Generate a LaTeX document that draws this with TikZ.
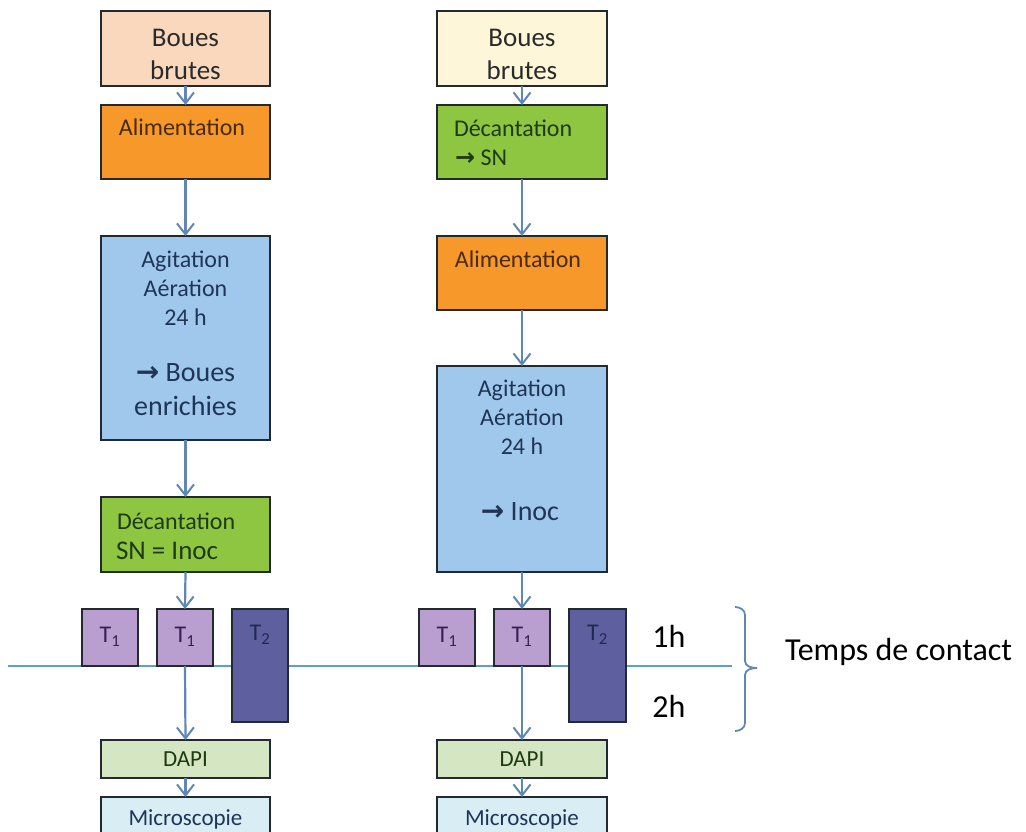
\documentclass[tikz,border=0pt]{standalone}
\usepackage{fontspec}
\setmainfont{Carlito}
\newfontfamily\arrowfont{DejaVu Sans}
\usetikzlibrary{arrows.meta,fit}
\newcommand\fsz[2]{\fontsize{#1}{#2}\selectfont}
\newcommand\rarr{{\arrowfont\bfseries\char"2192}}
\definecolor{boxline}{HTML}{222A30}
\definecolor{arrowc}{HTML}{5F86B4}
\definecolor{linec}{HTML}{5AA0CC}
\definecolor{peach}{HTML}{FAD8BE}
\definecolor{cream}{HTML}{FDF6D8}
\definecolor{orangec}{HTML}{F7982A}
\definecolor{greenc}{HTML}{8FC641}
\definecolor{bluec}{HTML}{A0C8EC}
\definecolor{lavc}{HTML}{B89FD0}
\definecolor{slatec}{HTML}{5E5F9E}
\definecolor{dapic}{HTML}{D5E6C2}
\definecolor{microc}{HTML}{D8EEF4}
\definecolor{tgrey}{HTML}{2A2A2A}
\definecolor{tbrown}{HTML}{4A2A0C}
\definecolor{tgreen}{HTML}{1E3A12}
\definecolor{tnavy}{HTML}{1F3556}
\definecolor{tpurple}{HTML}{3A1F55}
\definecolor{tslate}{HTML}{1F2A50}
\begin{document}
\begin{tikzpicture}[x=1pt,y=-1pt,
  box/.style={draw=boxline, line width=1.5pt, inner sep=0pt, outer sep=0pt},
  flow/.style={draw=arrowc, line width=2.2pt, -{Straight Barb[length=11pt,width=17pt,line width=2pt]}},
  txt/.style={inner sep=0pt, outer sep=0pt, align=center},
  small/.style={font=\fsz{24}{29}},
  big/.style={font=\fsz{28}{34}},
]
\useasboundingbox (0,0) rectangle (1026,831);
\clip (0,0) rectangle (1026,831);

% time line
\coordinate (lineL) at (8,666);
\coordinate (lineR) at (732,666);
\draw[linec, line width=1.8pt] (lineL) -- (lineR);

% left column
\node[box, fill=peach,   fit={(101,11) (270,86)}]   (bbL) {};
\node[box, fill=orangec, fit={(101,105) (270,179)}] (alL) {};
\node[box, fill=bluec,   fit={(101,236) (270,440)}] (agL) {};
\node[box, fill=greenc,  fit={(101,497) (270,572)}] (deL) {};
% right column
\node[box, fill=cream,   fit={(437,11) (607,86)}]   (bbR) {};
\node[box, fill=greenc,  fit={(437,105) (607,179)}] (deR) {};
\node[box, fill=orangec, fit={(437,236) (607,310)}] (alR) {};
\node[box, fill=bluec,   fit={(437,366) (607,572)}] (agR) {};
% T boxes
\node[box, fill=lavc,   fit={(82,609) (138,666)}]  (t1a) {};
\node[box, fill=lavc,   fit={(157,609) (213,666)}] (t1b) {};
\node[box, fill=slatec, fit={(232,609) (288,722)}] (t2L) {};
\node[box, fill=lavc,   fit={(419,609) (475,666)}] (t1c) {};
\node[box, fill=lavc,   fit={(494,609) (550,666)}] (t1d) {};
\node[box, fill=slatec, fit={(569,609) (626,722)}] (t2R) {};
% bottom boxes
\node[box, fill=dapic,  fit={(101,740) (270,778)}] (daL) {};
\node[box, fill=microc, fit={(101,797) (270,850)}] (miL) {};
\node[box, fill=dapic,  fit={(437,740) (607,778)}] (daR) {};
\node[box, fill=microc, fit={(437,797) (607,850)}] (miR) {};

% texts left
\node[txt, font=\fsz{27}{33}, text=tgrey] at (185.5,54) {Boues\\brutes};
\node[txt, small, text=tbrown] at (182,127) {Alimentation};
\node[txt, small, text=tnavy] at (185.5,288) {Agitation\\Aération\\24 h};
\node[txt, big, text=tnavy] at (185.5,390) {\rarr\ Boues\\enrichies};
\node[txt, small, text=tgreen, anchor=west] at (117,521) {Décantation};
\node[txt, font=\fsz{27}{33}, text=tgreen, anchor=west] at (116,551) {SN = Inoc};
% texts right
\node[txt, font=\fsz{27}{33}, text=tgrey] at (522,54) {Boues\\brutes};
\node[txt, small, text=tgreen, anchor=west] at (454,128) {Décantation};
\node[txt, small, text=tgreen, anchor=west] at (455,158) {\rarr\ SN};
\node[txt, small, text=tbrown] at (518,259) {Alimentation};
\node[txt, small, text=tnavy] at (522,417) {Agitation\\Aération\\24 h};
\node[txt, big, text=tnavy] at (520,512) {\rarr\ Inoc};
% T labels
\foreach \n in {t1a,t1b,t1c,t1d}
  \node[txt, font=\fsz{24}{28}, text=tpurple] at ([yshift=1pt]\n.center) {T\textsubscript{1}};
\foreach \n in {t2L,t2R}
  \node[txt, font=\fsz{24}{28}, text=tslate] at ([yshift=31pt]\n.center) {T\textsubscript{2}};
% bottom texts
\node[txt, font=\fsz{23}{28}, text=tgreen] at (185.5,759) {DAPI};
\node[txt, font=\fsz{23}{28}, text=tnavy] at (185.5,819) {Microscopie};
\node[txt, font=\fsz{23}{28}, text=tgreen] at (522,759) {DAPI};
\node[txt, font=\fsz{23}{28}, text=tnavy] at (522,819) {Microscopie};

% contact time labels
\node[txt, font=\fsz{32}{38}] at (669,636) {1h};
\node[txt, font=\fsz{32}{38}] at (669,706) {2h};
\node[txt, font=\fsz{32}{38}, anchor=west] at (785,652) {Temps de contact};
\draw[arrowc, line width=1.8pt] (735,607) to[out=0,in=90] (745,615) -- (745,661)
  to[out=-90,in=180] (757,668) to[out=180,in=90] (745,675) -- (745,723)
  to[out=-90,in=0] (735,731);

% flow arrows
\draw[flow] (bbL.south) -- (alL.north);
\draw[flow] (alL.south) -- (agL.north);
\draw[flow] (agL.south) -- (deL.north);
\draw[flow] (deL.south) -- (t1b.north);
\draw[flow] (t1b.south) -- (daL.north);
\draw[flow] (daL.south) -- (miL.north);
\draw[flow] (bbR.south) -- (deR.north);
\draw[flow] (deR.south) -- (alR.north);
\draw[flow] (alR.south) -- (agR.north);
\draw[flow] (agR.south) -- (t1d.north);
\draw[flow] (t1d.south) -- (daR.north);
\draw[flow] (daR.south) -- (miR.north);
\end{tikzpicture}
\end{document}
